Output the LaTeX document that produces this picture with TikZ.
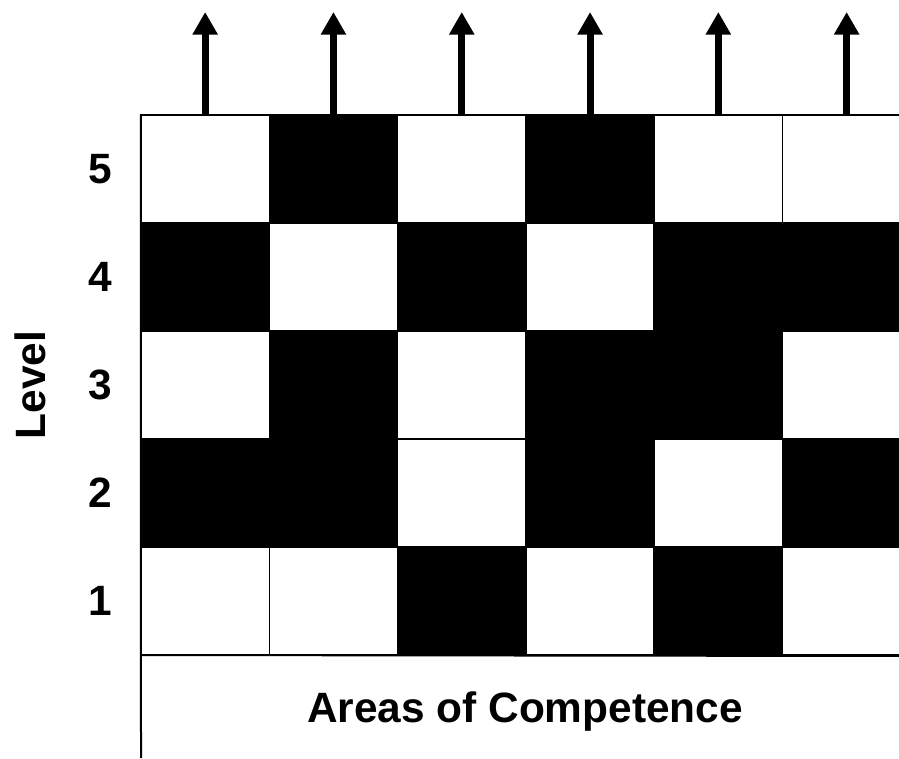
\documentclass[tikz,border=0pt]{standalone}
\usepackage{fontspec}
\setmainfont{Liberation Sans}
\usetikzlibrary{arrows.meta,positioning}
\begin{document}
\begin{tikzpicture}[x=0.75pt,y=-0.75pt,>={Triangle[width=18pt,length=17pt]}]
  \tikzstyle{cel}=[draw,line width=1pt,inner sep=0pt,outer sep=0pt,minimum width=96.3pt,minimum height=81pt]
  \tikzstyle{lab}=[font=\fontsize{31.8}{36}\selectfont\bfseries,inner sep=0pt]
  \useasboundingbox (0,0) rectangle (899,758);
  % grid, 1 = filled
  \foreach \lv/\row in {5/{0,1,0,1,0,0},4/{1,0,1,0,1,1},3/{0,1,0,1,1,0},2/{1,1,0,1,0,1},1/{0,0,1,0,1,0}} {
    \foreach \v [count=\c] in \row {
      \ifnum\v=1 \def\col{black}\else\def\col{white}\fi
      \node[cel,fill=\col] (c\c-\lv) at ({141+(\c-0.5)*128.3},{115+(5.5-\lv)*108}) {};
    }
    \node[lab] (n\lv) at ({100},{115+(5.5-\lv)*108}) {\lv};
  }
  % arrows
  \foreach \c in {1,...,6} {
    \coordinate (t\c) at (c\c-5.north |- 0,12);
    \draw[->,line width=5.2pt] (c\c-5.north) -- (t\c);
  }
  % axes
  \coordinate (axbot) at (141,758);
  \coordinate (axright) at (910,656);
  \draw[line width=1.5pt] (c1-5.north west) -- (axbot);
  \draw[line width=1.5pt] (c1-1.south west) -- (axright);
  \node[lab,rotate=90] (level) at (30,385) {Level};
  \node[lab] (areas) at (525,712) {Areas of Competence};
\end{tikzpicture}
\end{document}
